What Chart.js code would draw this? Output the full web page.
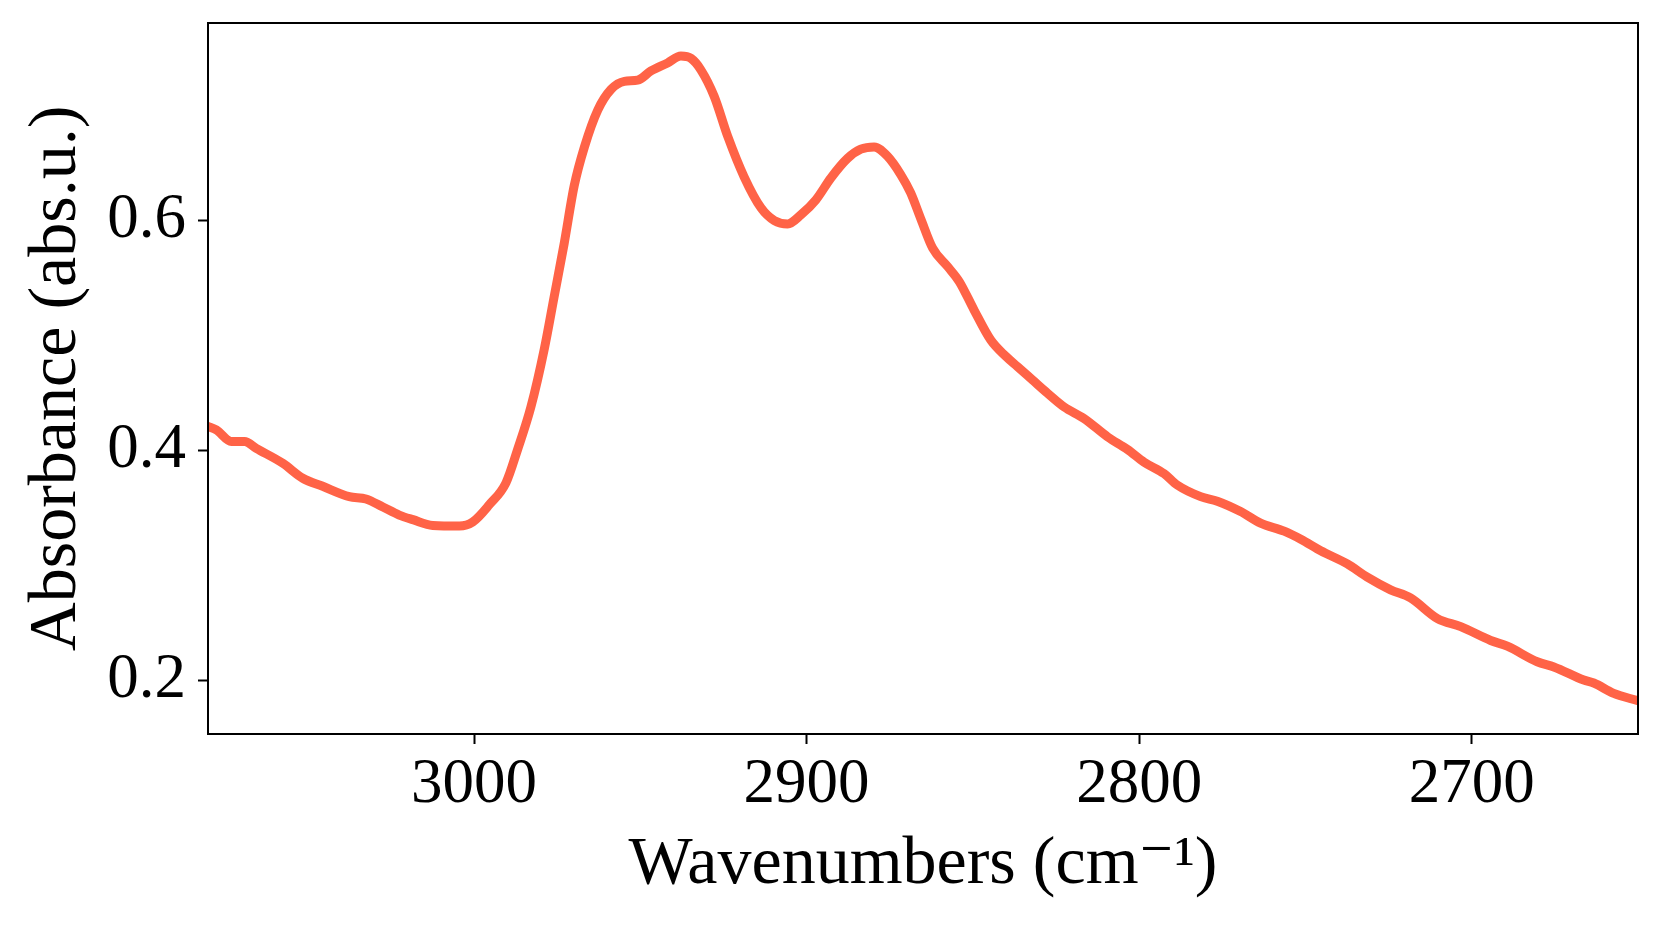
<!DOCTYPE html>
<html>
<head>
<meta charset="utf-8">
<script src="https://cdn.jsdelivr.net/npm/chart.js@4.4.1/dist/chart.umd.min.js"></script>
<style>
  html, body { margin: 0; padding: 0; background: #ffffff; }
  #wrap { width: 1662px; height: 926px; }
</style>
</head>
<body>
<div id="wrap"><canvas id="c" width="1662" height="926"></canvas></div>
<script>
// Wavenumbers (cm^-1)
const wavenumbers = [
  3080.0, 3077.5, 3073.0, 3069.0, 3065.5, 3057.5, 3051.5, 3045.5, 3037.5, 3032.5,
  3027.4, 3022.5, 3018.4, 3012.4, 3004.4, 3000.4, 2995.4, 2990.4, 2986.9, 2982.9,
  2978.9, 2975.9, 2972.9, 2969.9, 2966.8, 2962.8, 2958.8, 2954.8, 2950.8, 2946.8,
  2941.8, 2937.8, 2934.8, 2931.8, 2927.8, 2923.7, 2918.8, 2913.7, 2909.7, 2905.7,
  2901.7, 2897.2, 2892.7, 2887.7, 2883.7, 2879.7, 2875.7, 2871.7, 2868.7, 2865.6,
  2862.1, 2857.6, 2854.1, 2849.6, 2844.6, 2840.1, 2836.6, 2832.1, 2827.6, 2822.6,
  2816.6, 2809.5, 2803.5, 2798.5, 2792.5, 2788.5, 2781.5, 2776.5, 2769.5, 2763.5,
  2756.4, 2751.4, 2745.4, 2737.4, 2731.4, 2724.4, 2718.4, 2710.3, 2703.3, 2694.3,
  2689.3, 2680.3, 2675.3, 2666.3, 2663.3, 2657.3, 2650.0
];
// Absorbance (abs.u.)
const absorbance = [
  0.421, 0.418, 0.408, 0.408, 0.402, 0.389, 0.376, 0.369, 0.360, 0.358,
  0.351, 0.344, 0.340, 0.335, 0.3345, 0.338, 0.353, 0.372, 0.401, 0.438,
  0.488, 0.534, 0.580, 0.630, 0.664, 0.696, 0.714, 0.721, 0.722, 0.730,
  0.737, 0.743, 0.741, 0.731, 0.708, 0.673, 0.638, 0.611, 0.600, 0.597,
  0.605, 0.618, 0.637, 0.654, 0.662, 0.664, 0.656, 0.640, 0.624, 0.601,
  0.576, 0.560, 0.547, 0.522, 0.496, 0.482, 0.473, 0.4615, 0.450, 0.438,
  0.428, 0.412, 0.401, 0.390, 0.380, 0.370, 0.360, 0.356, 0.347, 0.337,
  0.330, 0.323, 0.313, 0.3015, 0.290, 0.279, 0.272, 0.254, 0.247, 0.235,
  0.230, 0.2165, 0.212, 0.2006, 0.198, 0.189, 0.1826
];
const xTickValues = [3000, 2900, 2800, 2700];
const yTickValues = [0.2, 0.4, 0.6];
const xLabel = 'Wavenumbers (cm\u207B\u00B9)';
const yLabel = 'Absorbance (abs.u.)';

const points = wavenumbers.map((x, i) => ({ x: x, y: absorbance[i] }));
const FONT = "'Liberation Serif', 'DejaVu Serif', serif";

const frame = {
  id: 'frame',
  afterDatasetsDraw(chart) {
    const a = chart.chartArea, ctx = chart.ctx;
    ctx.save();
    ctx.strokeStyle = '#000';
    ctx.lineWidth = 2;
    ctx.strokeRect(a.left, a.top, a.right - a.left, a.bottom - a.top);
    ctx.restore();
  }
};

new Chart(document.getElementById('c'), {
  type: 'line',
  data: {
    datasets: [{
      data: points,
      borderColor: '#ff6347',
      borderWidth: 9,
      pointRadius: 0,
      fill: false,
      cubicInterpolationMode: 'monotone',
      borderCapStyle: 'round',
      borderJoinStyle: 'round'
    }]
  },
  options: {
    responsive: false,
    animation: false,
    devicePixelRatio: 1,
    layout: { padding: { top: 23, right: 24, left: 0, bottom: 0 } },
    plugins: { legend: { display: false }, tooltip: { enabled: false } },
    scales: {
      x: {
        type: 'linear',
        reverse: true,
        min: 2650,
        max: 3080,
        afterBuildTicks: s => { s.ticks = xTickValues.map(v => ({ value: v })); },
        afterFit: s => { s.height = 192; s.paddingLeft = 0; s.paddingRight = 0; },
        grid: { drawOnChartArea: false, drawTicks: true, tickLength: 10, tickColor: '#000', tickWidth: 2 },
        border: { display: true, color: '#000', width: 2 },
        ticks: { color: '#000', padding: 4, maxRotation: 0, autoSkip: false,
                 font: { family: FONT, size: 63 }, callback: v => String(v) },
        title: { display: true, text: xLabel, color: '#000',
                 font: { family: FONT, size: 68 }, padding: { top: 0, bottom: 20 } }
      },
      y: {
        type: 'linear',
        min: 0.1537,
        max: 0.7717,
        afterBuildTicks: s => { s.ticks = yTickValues.map(v => ({ value: v })); },
        afterFit: s => { s.width = 208; s.paddingTop = 0; s.paddingBottom = 0; },
        grid: { drawOnChartArea: false, drawTicks: true, tickLength: 10, tickColor: '#000', tickWidth: 2 },
        border: { display: true, color: '#000', width: 2 },
        ticks: { color: '#000', padding: 12, autoSkip: false,
                 font: { family: FONT, size: 63 }, callback: v => v.toFixed(1) },
        title: { display: true, text: yLabel, color: '#000',
                 font: { family: FONT, size: 68 }, padding: { top: 16, bottom: 0 } }
      }
    }
  },
  plugins: [frame]
});
</script>
</body>
</html>
